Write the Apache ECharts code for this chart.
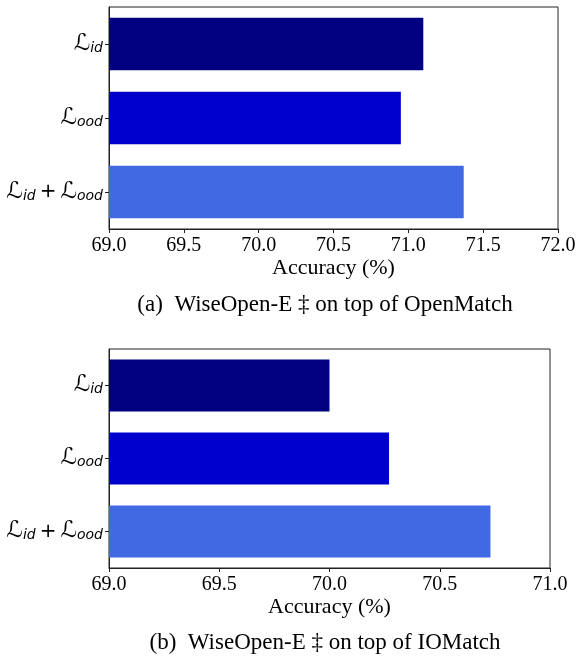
<!DOCTYPE html>
<html><head><meta charset="utf-8">
<script src="https://cdn.jsdelivr.net/npm/echarts@6/dist/echarts.min.js"></script>
<style>html,body{margin:0;padding:0;background:#fff}#c{width:577px;height:656px}</style>
</head><body><div id="c"></div>
<script>
const categories = ['id', 'ood', 'id+ood'];
const valuesOpenMatch = [71.10, 70.95, 71.37];
const valuesIOMatch = [70.00, 70.27, 70.73];
const barColors = ['#000080', '#0000CD', '#4169E1'];
const ticksTop = {min: 69.0, max: 72.0, interval: 0.5};
const ticksBottom = {min: 69.0, max: 71.0, interval: 0.5};
const captionTop = '(a)  WiseOpen-E \u2021 on top of OpenMatch';
const captionBottom = '(b)  WiseOpen-E \u2021 on top of IOMatch';
const xName = 'Accuracy (%)';

const rich = {
  L: {fontFamily: 'DejaVu Sans', fontSize: 23, color: '#000'},
  s: {fontFamily: 'DejaVu Sans', fontStyle: 'italic', fontSize: 14, color: '#000', padding: [0,0,-8,0]},
  p: {fontFamily: 'DejaVu Sans', fontSize: 20, color: '#000', padding: [0,4,0,4]}
};
function fmtCat(v) {
  if (v === 'id') return '{L|\u2112}{s|id}';
  if (v === 'ood') return '{L|\u2112}{s|ood}';
  return '{L|\u2112}{s|id}{p|+}{L|\u2112}{s|ood}';
}
const serif = 'Liberation Serif';
function xAxisCfg(gi, t, gap) {
  return {
    type: 'value', gridIndex: gi, min: t.min, max: t.max, interval: t.interval,
    name: xName, nameLocation: 'middle', nameGap: gap,
    nameTextStyle: {fontFamily: serif, fontSize: 22, color: '#000'},
    axisLine: {show: true, lineStyle: {color: '#222', width: 1}},
    axisTick: {show: true, length: 4, lineStyle: {color: '#222'}},
    axisLabel: {fontFamily: serif, fontSize: 20, color: '#000', margin: 7, formatter: v => v.toFixed(1)},
    splitLine: {show: false}
  };
}
function yAxisCfg(gi) {
  return {
    type: 'category', gridIndex: gi, data: categories, inverse: true,
    axisLine: {show: true, lineStyle: {color: '#222', width: 1}},
    axisTick: {show: true, length: 4, alignWithLabel: true, lineStyle: {color: '#222'}},
    axisLabel: {formatter: fmtCat, rich: rich, margin: 6},
    splitLine: {show: false}
  };
}
function seriesCfg(i, vals) {
  return {
    type: 'bar', xAxisIndex: i, yAxisIndex: i, barWidth: '71%',
    data: vals.map((v, k) => ({value: v, itemStyle: {color: barColors[k]}})),
    silent: true
  };
}
const chart = echarts.init(document.getElementById('c'));
chart.setOption({
  animation: false,
  grid: [
    {left: 109, right: 19, top: 7, height: 222, containLabel: false, outerBoundsMode: 'none', show: true, borderColor: '#222', borderWidth: 1, backgroundColor: 'transparent'},
    {left: 109, right: 27, top: 349, height: 219, containLabel: false, outerBoundsMode: 'none', show: true, borderColor: '#222', borderWidth: 1, backgroundColor: 'transparent'}
  ],
  xAxis: [xAxisCfg(0, ticksTop, 28), xAxisCfg(1, ticksBottom, 27)],
  yAxis: [yAxisCfg(0), yAxisCfg(1)],
  series: [seriesCfg(0, valuesOpenMatch), seriesCfg(1, valuesIOMatch)],
  graphic: [
    {type: 'text', x: 325, y: 293, style: {text: captionTop, fontFamily: serif, fontSize: 23, fill: '#000', align: 'center'}},
    {type: 'text', x: 325, y: 631, style: {text: captionBottom, fontFamily: serif, fontSize: 23, fill: '#000', align: 'center'}}
  ]
});
</script></body></html>
